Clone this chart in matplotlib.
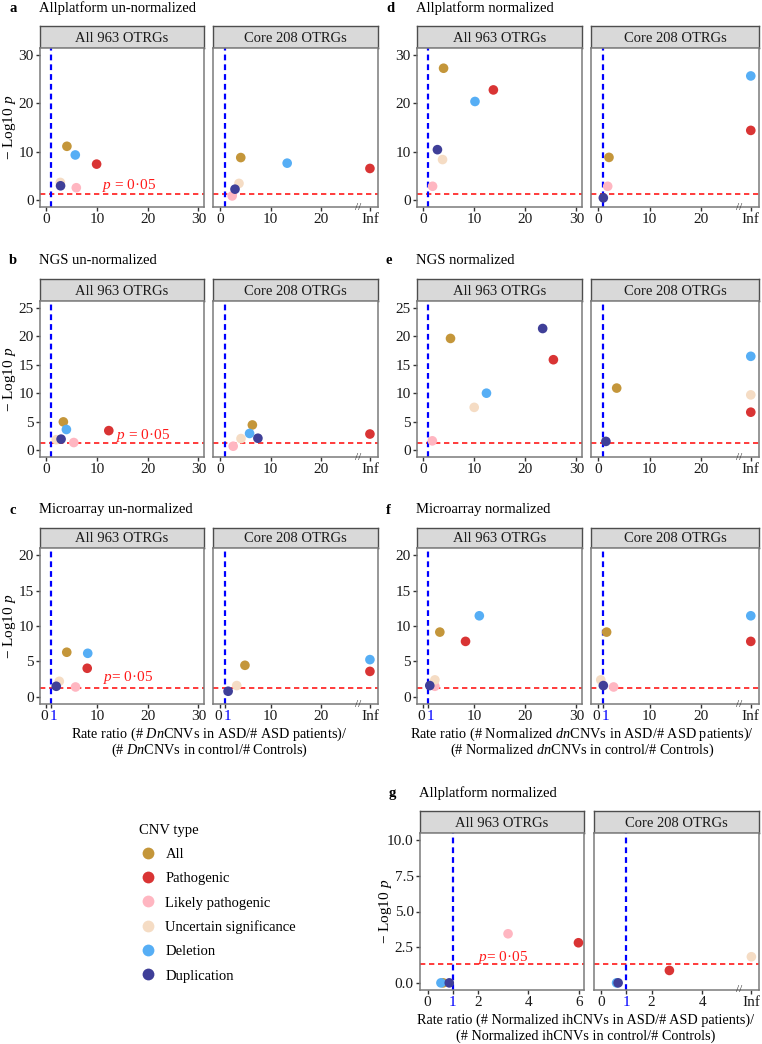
import numpy as np
import matplotlib
matplotlib.use("Agg")
import matplotlib.pyplot as plt
import matplotlib.transforms as mtransforms
from matplotlib.lines import Line2D

plt.rcParams["font.family"] = ["Liberation Serif", "DejaVu Serif"]
plt.rcParams["mathtext.fontset"] = "custom"
plt.rcParams["mathtext.rm"] = "Liberation Serif"
plt.rcParams["mathtext.it"] = "Liberation Serif:italic"

# ── Data (order follows CNV_TYPES; np.inf = "Inf" column, None = not shown) ──

CNV_TYPES = ["All", "Pathogenic", "Likely pathogenic", "Uncertain significance",
             "Deletion", "Duplication"]
COLORS = ["#C4963A", "#D93434", "#FFB6C1", "#F5DCC4", "#56AEF5", "#3F3F98"]
INF = np.inf

# a  Allplatform un-normalized
A_ALL_X = [4.1, 9.95, 5.95, 2.8, 5.75, 2.85]
A_ALL_Y = [11.1, 7.4, 2.5, 3.6, 9.3, 2.9]
A_CORE_X = [4.1, INF, 2.4, 3.75, 13.3, 2.96]
A_CORE_Y = [8.76, 6.5, 0.8, 3.4, 7.6, 2.2]
# b  NGS un-normalized
B_ALL_X = [3.4, 12.35, 5.45, 2.0, 4.0, 2.95]
B_ALL_Y = [4.94, 3.4, 1.3, 1.8, 3.6, 1.9]
B_CORE_X = [6.4, INF, 2.6, 4.15, 5.85, 7.5]
B_CORE_Y = [4.4, 2.8, 0.65, 2.0, 2.9, 2.06]
# c  Microarray un-normalized
C_ALL_X = [4.07, 8.1, 5.8, 2.6, 8.2, 2.0]
C_ALL_Y = [6.3, 4.04, 1.4, 2.2, 6.15, 1.5]
C_CORE_X = [4.93, INF, None, 3.3, INF, 1.6]
C_CORE_Y = [4.46, 3.6, None, 1.6, 5.26, 0.8]
# d  Allplatform normalized
D_ALL_X = [4.0, 13.75, 1.85, 3.8, 10.15, 2.8]
D_ALL_Y = [27.3, 22.8, 2.8, 8.35, 20.4, 10.4]
D_CORE_X = [2.1, INF, 1.85, None, INF, 1.0]
D_CORE_Y = [8.8, 14.4, 2.8, None, 25.7, 0.4]
# e  NGS normalized
E_ALL_X = [5.36, 25.5, 1.8, 10.0, 12.4, 23.4]
E_ALL_Y = [19.65, 15.9, 1.6, 7.5, 10.0, 21.4]
E_CORE_X = [3.6, INF, None, INF, INF, 1.5]
E_CORE_Y = [10.9, 6.65, None, 9.7, 16.5, 1.5]
# f  Microarray normalized
F_ALL_X = [3.27, 8.3, 2.3, 2.3, 11.0, 1.3]
F_ALL_Y = [9.14, 7.83, 1.5, 2.4, 11.44, 1.6]
F_CORE_X = [1.64, INF, 3.0, 0.5, INF, 1.0]
F_CORE_Y = [9.14, 7.83, 1.4, 2.4, 11.44, 1.6]
# g  Allplatform normalized (ihCNVs)
G_ALL_X = [0.62, 5.98, 3.19, None, 0.53, 0.86]
G_ALL_Y = [0.0, 2.81, 3.44, None, 0.0, 0.0]
G_CORE_X = [None, 2.7, None, INF, 0.62, 0.68]
G_CORE_Y = [None, 0.87, None, 1.83, 0.0, 0.0]

P_CUT = -np.log10(0.05)

# ── Layout (pixels) ───────────────────────────────────────────────────────────

W, H = 762, 1044
fig = plt.figure(figsize=(W / 100, H / 100), dpi=100)


def px_axes(x0, x1, y0, y1):
    return fig.add_axes([x0 / W, 1 - y1 / H, (x1 - x0) / W, (y1 - y0) / H])


def facet(xr, rows, strip_label, xs, ys, xlim, ylim, xticks, xlabels, yticks,
          ylabels, first, inf_pos=None, plabel=None, brk=None, nudge=False):
    x0, x1 = xr
    s_top, s_bot, p_bot = rows
    st = px_axes(x0, x1, s_top, s_bot)
    st.set_facecolor("#D9D9D9")
    st.set_xticks([]); st.set_yticks([])
    for sp in st.spines.values():
        sp.set_color("#4D4D4D"); sp.set_linewidth(1.0)
    st.text(0.5, 0.45, strip_label, ha="center", va="center", fontsize=10.5,
            color="#1A1A1A", transform=st.transAxes)

    ax = px_axes(x0, x1, s_bot, p_bot)
    ax.axhline(P_CUT, color="#FF1A1A", ls=(0, (3.2, 2.2)), lw=1.2, zorder=1)
    ax.axvline(1, color="#0000FF", ls=(0, (2.6, 1.8)), lw=1.6, zorder=1)
    for x, y, c in zip(xs, ys, COLORS):
        if x is None:
            continue
        xp = inf_pos if np.isinf(x) else x
        ax.scatter([xp], [y], s=48, color=c, edgecolors="none", zorder=3)
    ax.set_xlim(*xlim); ax.set_ylim(*ylim)
    ax.set_xticks(xticks); ax.set_xticklabels(xlabels)
    if first:
        ax.set_yticks(yticks); ax.set_yticklabels(ylabels)
    else:
        ax.set_yticks([])
    ax.tick_params(labelsize=11, colors="#333333", labelcolor="#1A1A1A",
                   length=3, width=1, pad=1.5)
    for t, lab in zip(ax.get_xticklabels(), xlabels):
        if lab == "1":
            t.set_color("#0000FF")
        if nudge and lab in ("0", "1"):
            dx = -2.0 if lab == "0" else 2.0
            t.set_transform(t.get_transform() + mtransforms.ScaledTranslation(
                dx / 100, 0, fig.dpi_scale_trans))
    for sp in ax.spines.values():
        sp.set_color("#7A7A7A"); sp.set_linewidth(1.1)
    if plabel is not None:
        ax.text(plabel[0], plabel[1], plabel[2], color="#FF1A1A", fontsize=11,
                ha="left", va="center", zorder=2)
    if brk is not None:
        ax.text(brk, ylim[0], "//", fontsize=8, ha="center", va="center",
                color="#333333", clip_on=False, zorder=5)
    return ax


def panel(letter, title, col, rows, data, ylim, yticks, ylabels, ylab_x,
          scale="big", plabel=None, xlab=None, xlab_shift=0):
    (lx, rx) = col
    nudge = False
    if scale == "big":
        xlim_l, xlim_r, inf_pos, brk = (-1.2, 31.1), (-1.4, 31.3), 29.7, 27.4
        lt = [0, 10, 20, 30]; rt = [0, 10, 20, inf_pos]
        ll = ["0", "10", "20", "30"]; rl = ["0", "10", "20", "Inf"]
        if xlab is not None:
            lt = [0, 1, 10, 20, 30]; rt = [0, 1, 10, 20, inf_pos]
            ll = ["0", "1", "10", "20", "30"]; rl = ["0", "1", "10", "20", "Inf"]
            nudge = True
    else:
        xlim_l, xlim_r, inf_pos, brk = (-0.3, 6.2), (-0.27, 6.23), 5.93, 5.46
        lt = [0, 1, 2, 4, 6]; rt = [0, 1, 2, 4, inf_pos]
        ll = ["0", "1", "2", "4", "6"]; rl = ["0", "1", "2", "4", "Inf"]
    ax1 = facet(lx, rows, "All 963 OTRGs", data[0], data[1], xlim_l, ylim, lt, ll,
                yticks, ylabels, True, inf_pos, plabel, None, nudge)
    facet(rx, rows, "Core 208 OTRGs", data[2], data[3], xlim_r, ylim, rt, rl,
          yticks, ylabels, False, inf_pos, None, brk, nudge)
    tx = lx[0]
    fig.text((tx - 31) / W, 1 - (rows[0] - 18) / H, letter, fontsize=10.5,
             fontweight="bold", ha="left", va="center")
    fig.text((tx - 1) / W, 1 - (rows[0] - 18) / H, title, fontsize=10.5,
             ha="left", va="center")
    if ylab_x is not None:
        yc = (rows[1] + rows[2]) / 2
        fig.text(ylab_x / W, 1 - yc / H, r"$-$ Log10 $p$", rotation=90,
                 fontsize=11, ha="center", va="center")
    if xlab is not None:
        xc = (lx[0] + rx[1]) / 2 + xlab_shift
        fig.text(xc / W, 1 - (rows[2] + 30) / H, xlab[0], fontsize=10.3,
                 ha="center", va="center")
        fig.text(xc / W, 1 - (rows[2] + 46) / H, xlab[1], fontsize=10.3,
                 ha="center", va="center")
    return ax1


COL1 = ((40, 204), (213, 378))
COL2 = ((417, 582), (591, 759))
ROW_A = (26, 48, 207)
ROW_B = (279, 301, 457)
ROW_C = (528, 548, 704)

Y30 = (-1.5, 31.5); Y25 = (-1.25, 26.25); Y20 = (-1.0, 21.0)
T30 = [0, 10, 20, 30]; T25 = [0, 5, 10, 15, 20, 25]; T20 = [0, 5, 10, 15, 20]

panel("a", "Allplatform un-normalized", COL1, ROW_A,
      (A_ALL_X, A_ALL_Y, A_CORE_X, A_CORE_Y), Y30, T30, [str(v) for v in T30], 9,
      plabel=(11.1, 2.9, r"$p$ = 0·05"))
panel("b", "NGS un-normalized", COL1, ROW_B,
      (B_ALL_X, B_ALL_Y, B_CORE_X, B_CORE_Y), Y25, T25, [str(v) for v in T25], 9,
      plabel=(13.8, 2.6, r"$p$ = 0·05"))
panel("c", "Microarray un-normalized", COL1, ROW_C,
      (C_ALL_X, C_ALL_Y, C_CORE_X, C_CORE_Y), Y20, T20, [str(v) for v in T20], 9,
      plabel=(11.2, 2.7, r"$p$= 0·05"),
      xlab=(r"Rate ratio (# $Dn$CNVs in ASD/# ASD patients)/",
            r"(# $Dn$CNVs in control/# Controls)"))
panel("d", "Allplatform normalized", COL2, ROW_A,
      (D_ALL_X, D_ALL_Y, D_CORE_X, D_CORE_Y), Y30, T30, [str(v) for v in T30], None)
panel("e", "NGS normalized", COL2, ROW_B,
      (E_ALL_X, E_ALL_Y, E_CORE_X, E_CORE_Y), Y25, T25, [str(v) for v in T25], None)
panel("f", "Microarray normalized", COL2, ROW_C,
      (F_ALL_X, F_ALL_Y, F_CORE_X, F_CORE_Y), Y20, T20, [str(v) for v in T20], None,
      xlab=(r"Rate ratio (# Normalized $dn$CNVs in ASD/# ASD patients)/",
            r"(# Normalized $dn$CNVs in control/# Controls)"), xlab_shift=-6)
TG = [0, 2.5, 5.0, 7.5, 10.0]
panel("g", "Allplatform normalized", ((420, 584), (594, 759)), (811, 833, 990),
      (G_ALL_X, G_ALL_Y, G_CORE_X, G_CORE_Y), (-0.5, 10.5), TG,
      ["%.1f" % v for v in TG], 386, scale="small",
      plabel=(1.98, 1.76, r"$p$= 0·05"),
      xlab=("Rate ratio (# Normalized ihCNVs in ASD/# ASD patients)/",
            "(# Normalized ihCNVs in control/# Controls)"), xlab_shift=-4)

# ── Legend ────────────────────────────────────────────────────────────────────

handles = [Line2D([], [], ls="none", marker="o", markersize=8.5, color=c,
                  markeredgewidth=0) for c in COLORS]
leg = fig.legend(handles, CNV_TYPES, title="CNV type", loc="upper left",
                 bbox_to_anchor=(126 / W, 1 - 811 / H), frameon=False,
                 fontsize=10.5, title_fontsize=10.5, labelspacing=0.75,
                 handletextpad=0.6, handlelength=1.2)
leg._legend_box.align = "left"

fig.savefig("out.png", dpi=100)
